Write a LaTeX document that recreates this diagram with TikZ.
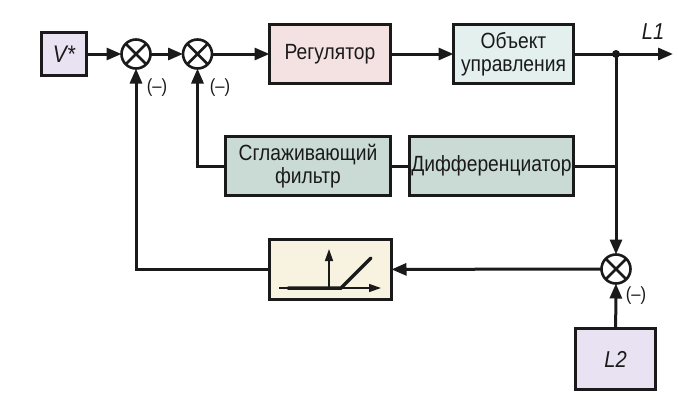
\documentclass[tikz,border=0pt]{standalone}
\usepackage{fontspec}
\setmainfont{Liberation Sans}[FakeStretch=0.875]
\usetikzlibrary{arrows.meta,calc}
\definecolor{lav}{HTML}{E9E2F2}
\definecolor{pnk}{HTML}{F4E2E2}
\definecolor{cyn}{HTML}{E3F0EE}
\definecolor{grn}{HTML}{CADBD5}
\definecolor{crm}{HTML}{F8F2E0}
\definecolor{ink}{HTML}{1A1A1A}
\begin{document}
\begin{tikzpicture}[x=1pt,y=-1pt,
  blk/.style={draw=ink, line width=3pt, inner sep=0pt, outer sep=0pt, align=center,
    font=\fontsize{22}{23}\selectfont, text=ink},
  sum/.style={draw=ink, circle, line width=2.6pt, minimum size=29pt, inner sep=0pt, outer sep=0pt,
    path picture={\draw[ink,line width=2.6pt] (path picture bounding box.north west)--(path picture bounding box.south east)
      (path picture bounding box.north east)--(path picture bounding box.south west);}},
  conn/.style={draw=ink, line width=3pt},
  arr/.style={conn, -{Triangle[length=15pt,width=12pt]}},
  thinarr/.style={draw=ink, line width=1.5pt, -{Triangle[length=12pt,width=8pt]}},
  lbl/.style={font=\fontsize{19}{21}\selectfont, text=ink},
  var/.style={font=\fontsize{23}{25}\selectfont\itshape, text=ink},
]
\useasboundingbox (0,0) rectangle (678,415);
% blocks
\node[blk, fill=lav, minimum width=45pt, minimum height=43pt] (v) at (64,54) {\fontsize{24}{25}\selectfont\itshape V*};
\node[sum] (s1) at (136,54) {};
\node[sum] (s2) at (197.5,54) {};
\node[blk, fill=pnk, minimum width=121pt, minimum height=59pt] (reg) at (330,54) {Регулятор};
\node[blk, fill=cyn, minimum width=120pt, minimum height=59pt] (obj) at (513.5,54) {Объект\\управления};
\coordinate (j) at (616,54);
\coordinate (out) at (673,54);
\node[blk, fill=grn, minimum width=165pt, minimum height=59pt] (smooth) at (308,166) {Сглаживающий\\фильтр};
\node[blk, fill=grn, minimum width=164pt, minimum height=59pt] (diff) at (491.5,166) {Дифференциатор};
\node[sum] (s3) at (616,269) {};
\node[blk, fill=crm, minimum width=122pt, minimum height=60pt] (nl) at (330.5,269.5) {};
\node[blk, fill=lav, minimum width=80pt, minimum height=61pt] (l2) at (615.5,359) {\fontsize{23}{25}\selectfont\itshape L2};
% labels
\node[var] (l1) at (653,32) {L1};
\node[lbl] (m1) at (157,88) {(–)};
\node[lbl] (m2) at (220,88) {(–)};
\node[lbl] (m3) at (636,296) {(–)};
% connectors
\draw[arr] (v) -- (s1);
\draw[arr] (s1) -- (s2);
\draw[arr] (s2) -- (reg);
\draw[arr] (reg) -- (obj);
\draw[conn] (obj) -- (j);
\draw[arr] (j) -- (out);
\fill[ink] (j) circle (4pt);
\draw[arr] (j) -- (s3);
\draw[conn] (diff.east) -- (diff.east -| j);
\draw[conn] (smooth) -- (diff);
\draw[arr] (smooth.west) -| (s2.south);
\draw[arr] (s3) -- (nl);
\draw[arr] (nl.west) -| (s1.south);
\draw[arr] (l2) -- (s3);
% nonlinearity graphic
\draw[thinarr] (279,288) -- (381,288);
\draw[thinarr] (329,288) -- (329,249);
\draw[ink, line width=3.5pt, line cap=round] (288,288) -- (341,288) -- (371,258);
\end{tikzpicture}
\end{document}
